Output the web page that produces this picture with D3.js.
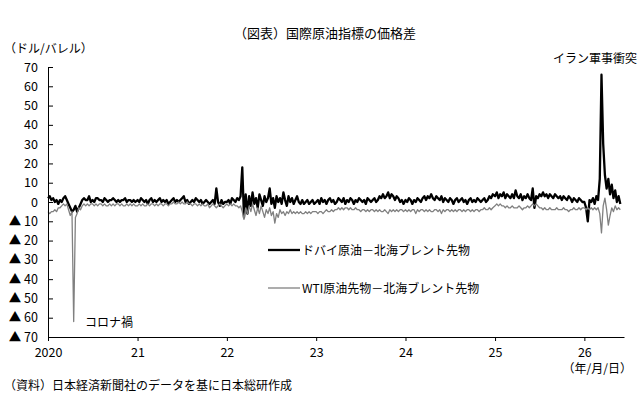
<!DOCTYPE html>
<html>
<head>
<meta charset="utf-8">
<script src="https://cdn.jsdelivr.net/npm/d3@7"></script>
<style>
body { margin:0; background:#fff; }
text { font-family:"Noto Sans CJK JP","Noto Sans",sans-serif; fill:#000; }
.axis path, .axis line { stroke:#000; stroke-width:1; }
</style>
</head>
<body>
<div id="chart"></div>
<script>
// weekly values, one array per year (USD/bbl)
var dubai2020 = [2,3,1,2,0,1,-1,1,0,2,3,1,-1,-3,-5,-4,-2,-5,-3,-1,1,2,1,1,3,0,1,0,2,2,1,1,0,2,1,0,1,1,2,1,0,1,0,1,1,2,0,1,1,0,1,0];
var dubai2021 = [1,0,2,1,0,1,-1,1,2,0,1,0,1,2,0,1,0,1,-1,0,1,2,0,1,0,1,2,3,0,1,-1,0,1,0,2,1,0,1,-1,0,1,0,-1,0,1,-1,7,0,-2,1,-1,0];
var dubai2022 = [0,1,-1,2,1,0,2,1,3,18,-8,4,-6,3,-2,5,-1,2,-3,4,1,-2,3,0,2,7,-1,2,-3,3,0,2,-1,5,1,-2,3,0,2,-1,1,3,0,-1,1,-1,0,1,-1,0,1,-1];
var dubai2023 = [0,1,-1,2,0,1,-1,1,2,0,1,-1,0,2,1,0,2,-1,1,0,2,1,-1,1,0,2,1,0,1,-1,2,1,0,1,2,0,1,3,2,4,2,3,5,2,4,3,1,3,2,0,1,-1];
var dubai2024 = [1,0,2,1,-1,1,0,2,1,0,2,3,1,3,2,4,2,1,3,2,1,3,0,2,1,0,2,1,-1,1,2,0,1,2,0,1,-1,1,2,0,1,0,2,1,0,1,2,0,1,3,2,4];
var dubai2025 = [3,5,2,4,3,5,2,4,3,2,4,2,6,3,2,4,1,3,2,4,2,1,7,-3,3,2,4,3,5,3,4,2,4,3,2,4,3,2,3,1,3,2,1,3,2,0,2,1,0,2,1,0];
var dubai2026 = [0,-3,-10,1,0,2,-1,3,1,12,66,30,14,7,12,4,9,2,6,0,3,-1];

var wti2020 = [-5,-6,-5,-5,-4,-5,-3,-3,-2,-1,-2,-1,-4,-7,-5,-62,-8,-6,-3,-4,-2,-1,-2,-1,-2,-1,-1,-2,-1,-2,-1,-1,-2,-1,-2,-2,-1,-2,-1,-2,-1,-1,-2,-1,-2,-2,-1,-2,-1,-2,-1,-2];
var wti2021 = [-2,-1,-2,-1,-2,-2,-1,-2,-1,-1,-2,-1,-2,-1,-1,-2,-1,-1,-2,-1,-1,0,-1,-1,0,-1,0,-1,-1,0,-1,-1,-2,-1,-1,-2,-1,-2,-1,-2,-2,-1,-3,-2,-1,-2,-3,-2,-1,-2,-3,-2];
var wti2022 = [-1,-2,-1,-2,-1,-2,-2,-3,-2,-5,-9,-3,-6,-2,-5,-1,-4,-7,-3,-6,-2,-5,-8,-4,-6,-3,-7,-5,-11,-6,-8,-4,-6,-5,-7,-5,-6,-4,-6,-5,-6,-5,-6,-5,-6,-6,-5,-6,-5,-6,-5,-5];
var wti2023 = [-5,-6,-5,-5,-6,-5,-4,-5,-5,-4,-5,-4,-4,-3,-4,-3,-4,-3,-3,-4,-3,-4,-4,-3,-4,-4,-5,-4,-4,-5,-4,-5,-4,-4,-5,-4,-5,-4,-5,-5,-4,-5,-6,-4,-5,-4,-5,-4,-5,-4,-4,-5];
var wti2024 = [-4,-5,-4,-5,-4,-4,-6,-4,-5,-4,-4,-5,-4,-5,-4,-5,-5,-4,-4,-5,-4,-6,-4,-5,-4,-4,-5,-4,-5,-4,-5,-4,-4,-5,-4,-5,-4,-4,-5,-4,-5,-4,-4,-5,-4,-4,-3,-4,-4,-3,-4,-3];
var wti2025 = [-2,-1,-2,-1,-2,-2,-3,-2,-3,-3,-2,-3,-3,-3,-2,-3,-4,-3,-3,-2,-3,-2,-1,-2,-1,-2,-3,-3,-4,-3,-4,-4,-3,-4,-4,-4,-3,-4,-4,-4,-3,-4,-4,-5,-4,-4,-3,-4,-4,-3,-4,-3];
var wti2026 = [-3,-4,-3,-4,-3,-4,-3,-4,-3,-6,-16,-2,2,-4,-12,-7,-3,-5,-2,-4,-3,-4];

var years = [2020,2021,2022,2023,2024,2025,2026];
var yearLabels = ["2020","21","22","23","24","25","26"];
var yTicks = [70,60,50,40,30,20,10,0,-10,-20,-30,-40,-50,-60,-70];

var seriesNames = ["ドバイ原油－北海ブレント先物","WTI原油先物－北海ブレント先物"];

var chart = {
	w:640, h:420,
	padding: {l:48, r:16, t:67, b:83},
	svg:null
};

function toPoints(arrs) {
	var pts = [];
	arrs.forEach(function(vals, k) {
		vals.forEach(function(v, i) {
			pts.push({date: new Date(years[k], 0, 1 + 7*i), v: v});
		});
	});
	return pts;
}

var dubai = toPoints([dubai2020,dubai2021,dubai2022,dubai2023,dubai2024,dubai2025,dubai2026]);
var wti = toPoints([wti2020,wti2021,wti2022,wti2023,wti2024,wti2025,wti2026]);

function initChart() {
	chart.svg = d3.select('#chart').append('svg')
				.attr('width', chart.w)
				.attr('height', chart.h);
}

function drawChart() {
	var x = d3.scaleTime()
				.domain([new Date(2020,0,1), new Date(2026,5,12)])
				.range([chart.padding.l, chart.w - chart.padding.r]);
	var y = d3.scaleLinear()
				.domain([-70, 70])
				.range([chart.h - chart.padding.b, chart.padding.t]);

	var line = d3.line()
				.x(d => x(d.date))
				.y(d => y(d.v));

	// lines
	chart.svg.append('path')
			.datum(dubai)
			.attr('fill', 'none')
			.attr('stroke', '#000')
			.attr('stroke-width', 2.3)
			.attr('stroke-linejoin', 'round')
			.attr('d', line);
	chart.svg.append('path')
			.datum(wti)
			.attr('fill', 'none')
			.attr('stroke', '#808080')
			.attr('stroke-width', 1.3)
			.attr('stroke-linejoin', 'round')
			.attr('d', line);

	// axes
	var yAxis = d3.axisLeft(y)
				.tickValues(yTicks)
				.tickSizeInner(-5)
				.tickSizeOuter(0)
				.tickPadding(10)
				.tickFormat(d => d < 0 ? '▲ ' + (-d) : d);
	chart.svg.append('g')
			.attr('class', 'axis y')
			.attr('transform', 'translate(' + chart.padding.l + ',0)')
			.call(yAxis)
			.selectAll('text')
				.style('font-size', '12.5px');

	var xAxis = d3.axisBottom(x)
				.tickValues(years.map(d => new Date(d,0,1)))
				.tickSizeInner(4)
				.tickSizeOuter(0)
				.tickPadding(7)
				.tickFormat((d,i) => yearLabels[i]);
	chart.svg.append('g')
			.attr('class', 'axis x')
			.attr('transform', 'translate(0,' + (chart.h - chart.padding.b) + ')')
			.call(xAxis)
			.selectAll('text')
				.style('font-size', '12.5px');

	// titles and notes
	chart.svg.append('text')
			.attr('x', 325).attr('y', 38)
			.attr('text-anchor', 'middle')
			.style('font-size', '13px')
			.text('（図表）国際原油指標の価格差');
	chart.svg.append('text')
			.attr('x', 4).attr('y', 53)
			.style('font-size', '12px')
			.text('（ドル/バレル）');
	chart.svg.append('text')
			.attr('x', 632).attr('y', 373)
			.attr('text-anchor', 'end')
			.style('font-size', '12px')
			.text('（年/月/日）');
	chart.svg.append('text')
			.attr('x', 4).attr('y', 390)
			.style('font-size', '12px')
			.text('（資料）日本経済新聞社のデータを基に日本総研作成');
	chart.svg.append('text')
			.attr('x', 85).attr('y', 327)
			.style('font-size', '12px')
			.text('コロナ禍');
	chart.svg.append('text')
			.attr('x', 553).attr('y', 63)
			.style('font-size', '12px')
			.text('イラン軍事衝突');

	// legend
	var legend = chart.svg.append('g').attr('class', 'legend')
			.selectAll('g')
			.data(seriesNames)
			.enter()
			.append('g')
				.attr('transform', (d,i) => 'translate(268,' + (250 + i*38) + ')');
	legend.append('line')
			.attr('x1', 0).attr('x2', 32)
			.attr('stroke', (d,i) => i ? '#808080' : '#000')
			.attr('stroke-width', (d,i) => i ? 1.3 : 2.3);
	legend.append('text')
			.attr('x', 34).attr('y', 4.5)
			.style('font-size', '12px')
			.text(d => d);
}

initChart();
drawChart();
</script>
</body>
</html>
